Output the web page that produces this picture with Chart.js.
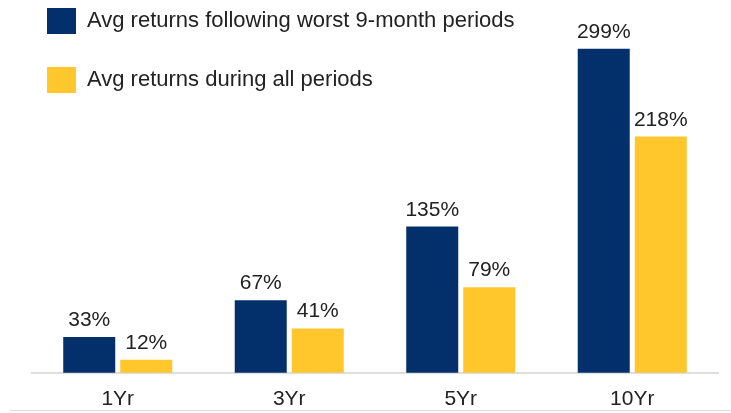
<!DOCTYPE html>
<html>
<head>
    <title>Avg returns</title>
    <script src="https://cdn.jsdelivr.net/npm/chart.js"></script>
    <style>
        html, body { margin: 0; padding: 0; background: #fff; }
        .wrap { position: relative; width: 731px; height: 413px; }
        .bottom-line { position: absolute; left: 10px; right: 0; top: 410px; height: 1px; background: #dcdcdc; }
    </style>
</head>
<body>
<div class="wrap">
    <canvas id="returnsChart" width="731" height="413"></canvas>
    <div class="bottom-line"></div>
</div>

<script>
    const periods = ['1Yr', '3Yr', '5Yr', '10Yr'];
    const worstReturns = [33, 67, 135, 299];
    const allReturns = [12, 41, 79, 218];
    const seriesNames = ['Avg returns following worst 9-month periods', 'Avg returns during all periods'];

    const fontFamily = '"Liberation Sans", Arial, sans-serif';
    const textColor = '#222';

    // percent labels above each bar
    const valueLabels = {
        id: 'valueLabels',
        afterDatasetsDraw(chart) {
            const ctx = chart.ctx;
            ctx.save();
            ctx.font = '21px ' + fontFamily;
            ctx.fillStyle = textColor;
            ctx.textAlign = 'center';
            ctx.textBaseline = 'alphabetic';
            chart.data.datasets.forEach((ds, i) => {
                chart.getDatasetMeta(i).data.forEach((bar, j) => {
                    ctx.fillText(ds.data[j] + '%', bar.x, bar.y - 11);
                });
            });
            ctx.restore();
        }
    };

    new Chart(document.getElementById('returnsChart'), {
        type: 'bar',
        data: {
            labels: periods,
            datasets: [{
                label: seriesNames[0],
                data: worstReturns,
                backgroundColor: '#03306a',
                clip: false
            }, {
                label: seriesNames[1],
                data: allReturns,
                backgroundColor: '#ffc72c',
                clip: false
            }]
        },
        options: {
            responsive: false,
            animation: false,
            layout: { padding: { top: -25, left: 14, right: 13, bottom: -13 } },
            categoryPercentage: 0.665,
            barPercentage: 0.912,
            plugins: {
                tooltip: { enabled: false },
                legend: {
                    position: 'top',
                    align: 'start',
                    labels: {
                        boxWidth: 29,
                        boxHeight: 26,
                        padding: 33,
                        color: textColor,
                        font: { family: fontFamily, size: 22 }
                    }
                }
            },
            scales: {
                x: {
                    grid: { display: false, drawTicks: false },
                    border: { display: true, color: '#dedede', width: 2 },
                    ticks: {
                        color: textColor,
                        padding: 14,
                        font: { family: fontFamily, size: 21 }
                    }
                },
                y: {
                    min: 0,
                    max: 249,
                    grid: { display: false, drawTicks: false },
                    border: { display: false },
                    ticks: { display: false },
                    afterFit: s => { s.width = 18; }
                }
            }
        },
        plugins: [valueLabels]
    });
</script>
</body>
</html>
